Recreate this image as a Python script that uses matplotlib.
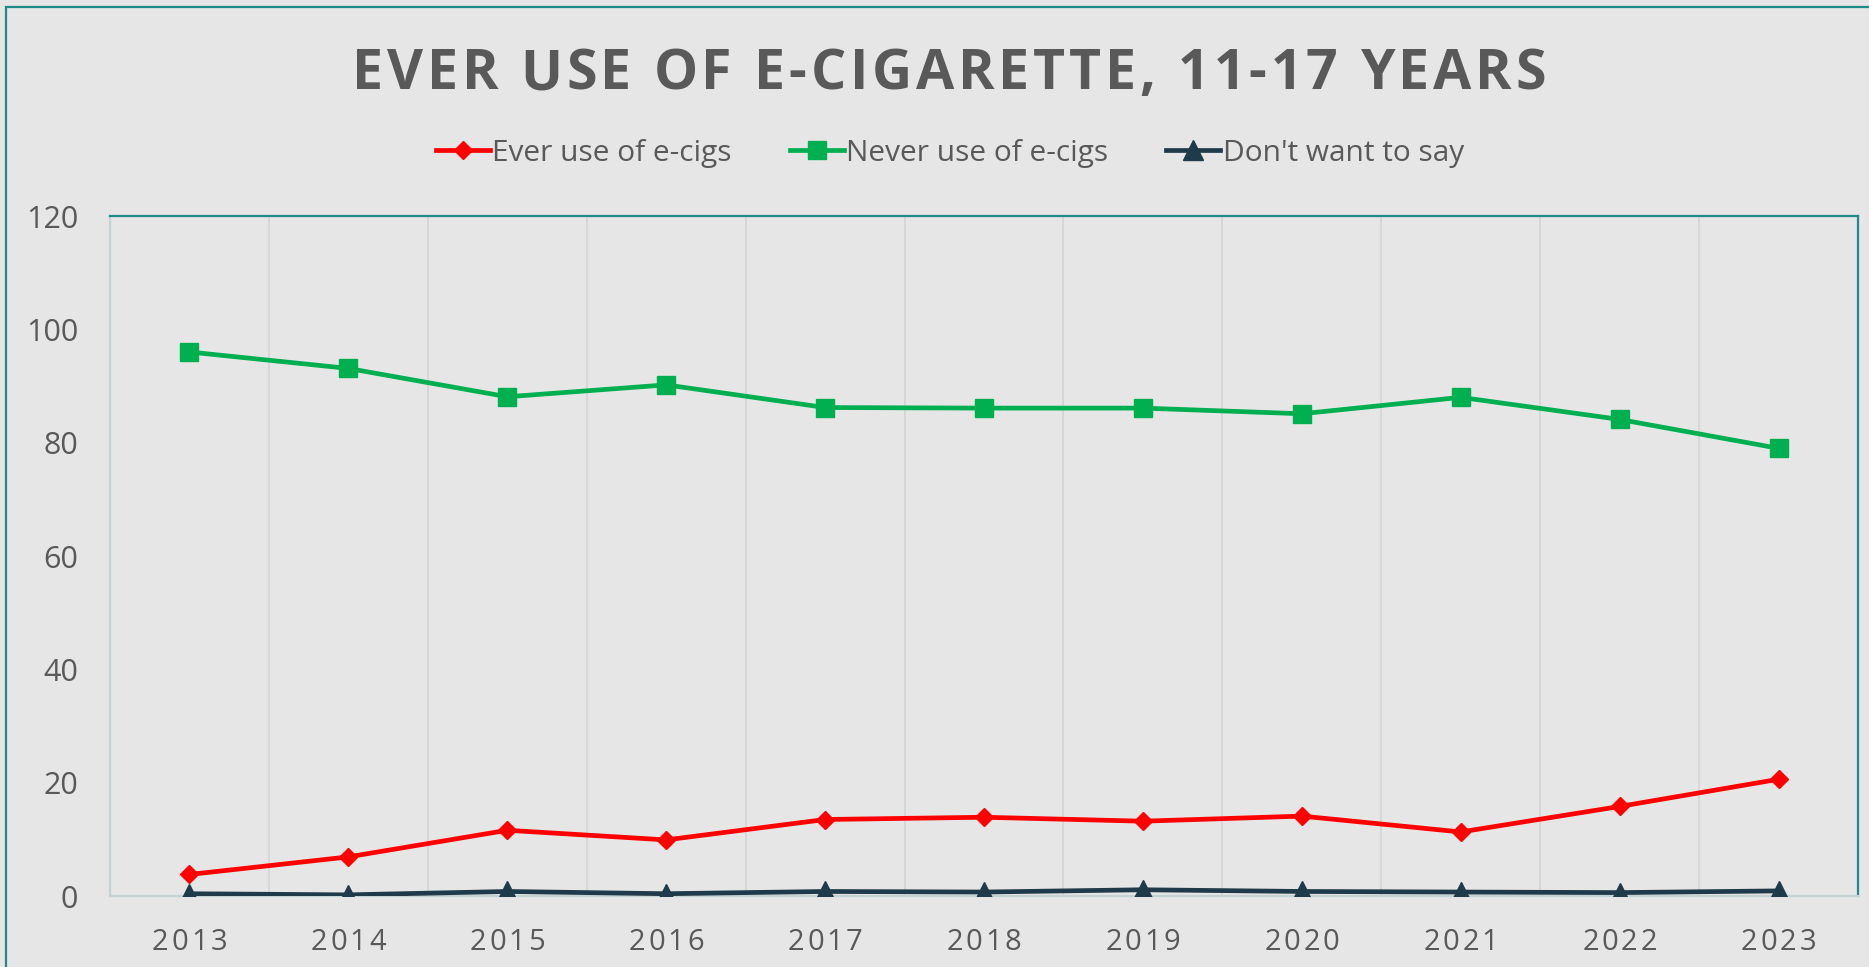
import matplotlib
matplotlib.use("Agg")
import matplotlib.pyplot as plt
from matplotlib import font_manager as fm
from matplotlib.ft2font import FT2Font
from matplotlib.transforms import IdentityTransform, blended_transform_factory
from matplotlib.patches import Rectangle

years = [2013, 2014, 2015, 2016, 2017, 2018, 2019, 2020, 2021, 2022, 2023]
ever_use = [3.8, 6.9, 11.6, 9.9, 13.5, 13.9, 13.2, 14.1, 11.3, 15.8, 20.6]
never_use = [96.0, 93.1, 88.1, 90.2, 86.2, 86.1, 86.1, 85.1, 88.0, 84.1, 79.0]
dont_say = [0.4, 0.2, 0.8, 0.4, 0.8, 0.7, 1.1, 0.8, 0.7, 0.6, 0.9]
labels = ["Ever use of e-cigs", "Never use of e-cigs", "Don't want to say"]
title = "EVER USE OF E-CIGARETTE, 11-17 YEARS"

W, H, DPI = 1869, 967, 100
BG = "#E7E6E6"
GREY = "#595959"
TEAL = "#1F8A86"
FONT = "Open Sans"

plt.rcParams['font.family'] = [FONT, 'DejaVu Sans']


def spaced_text(fig, x, y, s, size, width, transform, weight="normal", color=GREY):
    # letter-spaced text: spread characters so the string spans `width` pixels
    fp = fm.FontProperties(family=FONT, weight=weight)
    font = FT2Font(fm.findfont(fp))
    font.set_size(size, DPI)
    advs = [font.load_char(ord(c)).linearHoriAdvance / 65536 for c in s]
    gap = (width - sum(advs)) / (len(s) - 1)
    px, py = transform.transform((x, y))
    cur = px - width / 2
    for c, a in zip(s, advs):
        fig.text(cur, py, c, transform=IdentityTransform(), fontsize=size,
                 fontweight=weight, color=color, va="baseline", ha="left")
        cur += a + gap


fig = plt.figure(figsize=(W / DPI, H / DPI), dpi=DPI, facecolor=BG)
ax = fig.add_axes([110 / W, 1 - 896 / H, (1858 - 110) / W, (896 - 216) / H])
ax.set_facecolor(BG)

ax.plot(years, ever_use, color="#FF0000", lw=3.4, marker="D", ms=9.5, label=labels[0], zorder=3)
ax.plot(years, never_use, color="#00B050", lw=3.4, marker="s", ms=12.5, label=labels[1], zorder=3)
ax.plot(years, dont_say, color="#1F3A4A", lw=3.4, marker="^", ms=14, label=labels[2], zorder=3)

ax.set_xlim(2012.5, 2023.5)
ax.set_ylim(0, 120)
ax.set_yticks(range(0, 121, 20))
ax.set_xticks(years)
ax.set_xticklabels([])
ax.set_xticks([y + 0.5 for y in years[:-1]], minor=True)
ax.grid(True, which="minor", axis="x", color="#D6D6D6", lw=1.3)
ax.tick_params(which="both", length=0)
ax.tick_params(axis="y", labelsize=22, labelcolor=GREY, pad=23)

for side in ["top", "right"]:
    ax.spines[side].set_color(TEAL)
    ax.spines[side].set_linewidth(1.6)
for side in ["left", "bottom"]:
    ax.spines[side].set_color("#C3D3D3")
    ax.spines[side].set_linewidth(1.6)

# x tick labels, letter spaced
tr = blended_transform_factory(ax.transData, IdentityTransform())
for yr in years:
    spaced_text(fig, yr, H - 950, str(yr), 21, 75, tr)

# title
spaced_text(fig, 949, H - 89, title, 40, 1194, IdentityTransform(), weight="bold")

fig.legend(loc="center", bbox_to_anchor=(950 / W, 1 - 153 / H), ncol=3, frameon=False,
           fontsize=21.5, labelcolor=GREY, handlelength=1.8, handletextpad=0.08,
           columnspacing=1.95, markerscale=1.0)

# outer chart border (left and top edges visible)
fig.patches.append(Rectangle((6, -20), W + 40, H - 7 + 20, transform=IdentityTransform(),
                             fill=False, edgecolor=TEAL, lw=1.6))

fig.savefig("out.png", dpi=DPI, facecolor=BG)
